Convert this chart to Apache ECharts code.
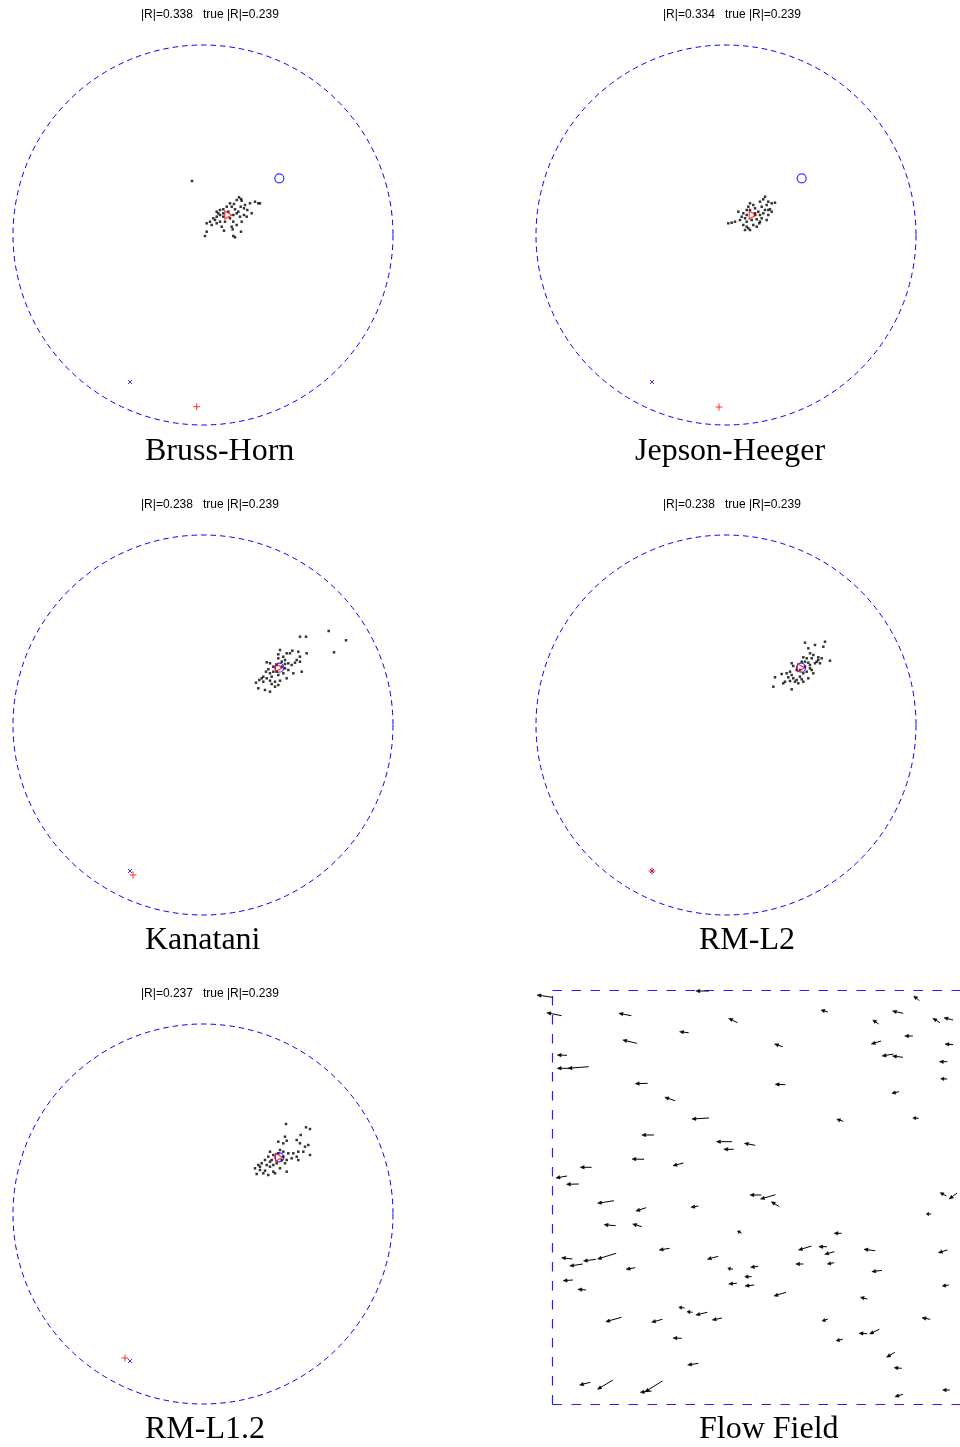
<!DOCTYPE html>
<html>
<head>
<meta charset="utf-8">
<script src="https://cdn.jsdelivr.net/npm/echarts@6/dist/echarts.min.js"></script>
<style>
  html, body { margin: 0; padding: 0; background: #fff; }
  #chart { width: 960px; height: 1447px; }
</style>
</head>
<body>
<div id="chart"></div>
<script>
// Radius of the dashed reference circle (same units as the estimates)
const RADIUS = 1.9;

const panelTitles = ['Bruss-Horn', 'Jepson-Heeger', 'Kanatani', 'RM-L2', 'RM-L1.2'];
const estimatedNorm = ['0.338', '0.334', '0.238', '0.238', '0.237'];
const trueNorm = '0.239';

// Rotation estimates from the individual flow samples, one array per method
const bhPoints = [
  [-0.11,0.54],
  [0.36,0.377],[0.38,0.36],[0.337,0.35],[0.387,0.343],[0.31,0.31],[0.27,0.317],[0.287,0.283],
  [0.237,0.283],[0.203,0.257],[0.17,0.25],[0.137,0.233],[0.253,0.233],[0.32,0.257],[0.377,0.283],
  [0.41,0.267],[0.443,0.25],[0.47,0.317],[0.52,0.333],[0.553,0.317],[0.57,0.317],[0.487,0.217],
  [0.41,0.2],[0.37,0.183],[0.337,0.217],[0.303,0.2],[0.27,0.167],[0.203,0.183],[0.17,0.2],
  [0.137,0.183],[0.103,0.167],[0.07,0.133],[0.037,0.117],[0.12,0.15],[0.17,0.133],[0.22,0.133],
  [0.303,0.133],[0.337,0.1],[0.387,0.133],[0.187,0.083],[0.137,0.117],[0.087,0.1],[0.037,0.033],
  [0.02,-0.01],[0.21,0.043],[0.297,0.057],[0.38,0.033],[0.32,-0.023],[0.303,-0.01],[0.203,0.217],
  [0.153,0.217],[0.287,0.083],[0.437,0.183],[0.353,0.233],[0.42,0.3]
];
const jhPoints = [
  [0.39,0.383],[0.373,0.357],[0.34,0.333],[0.423,0.333],[0.49,0.323],[0.457,0.317],[0.407,0.3],
  [0.357,0.283],[0.273,0.3],[0.29,0.267],[0.24,0.25],[0.207,0.25],[0.323,0.233],[0.39,0.25],
  [0.423,0.25],[0.457,0.233],[0.373,0.217],[0.34,0.2],[0.29,0.2],[0.207,0.2],[0.173,0.217],
  [0.123,0.233],[0.157,0.183],[0.19,0.167],[0.14,0.15],[0.09,0.133],[0.057,0.123],[0.023,0.117],
  [0.207,0.133],[0.257,0.15],[0.307,0.157],[0.357,0.167],[0.333,0.117],[0.273,0.1],[0.207,0.083],
  [0.24,0.05],[0.19,0.05],[0.173,0.1],[0.407,0.15],[0.423,0.2],[0.44,0.257],[0.29,0.217],
  [0.223,0.283],[0.24,0.317],[0.34,0.133],[0.307,0.083],[0.223,0.067]
];
const kanPoints = [
  [0.97,0.883],[1.03,0.883],[1.257,0.94],[1.43,0.847],[1.31,0.727],
  [0.77,0.75],[0.753,0.707],[0.803,0.683],[0.837,0.717],[0.87,0.717],[0.893,0.743],[0.953,0.733],
  [1.037,0.717],[0.97,0.683],[0.937,0.65],[0.97,0.633],[0.82,0.65],[0.787,0.633],[0.853,0.617],
  [0.887,0.6],[0.92,0.623],[0.637,0.627],[0.67,0.617],[0.703,0.583],[0.737,0.6],[0.787,0.583],
  [0.82,0.567],[0.853,0.55],[0.903,0.517],[0.987,0.533],[0.837,0.467],[0.753,0.5],[0.737,0.533],
  [0.703,0.533],[0.67,0.517],[0.653,0.557],[0.63,0.533],[0.687,0.483],[0.637,0.467],[0.587,0.467],
  [0.563,0.45],[0.53,0.423],[0.603,0.433],[0.67,0.443],[0.72,0.433],[0.77,0.443],[0.553,0.367],
  [0.62,0.35],[0.67,0.333],[0.72,0.383],[0.687,0.41],[0.753,0.4],[0.603,0.483],[0.803,0.517],
  [0.753,0.667],[0.82,0.61]
];
const l2Points = [
  [0.79,0.823],[0.99,0.833],[0.973,0.783],[0.89,0.8],[0.823,0.767],[0.84,0.717],[0.873,0.7],
  [0.773,0.677],[0.807,0.667],[0.857,0.667],[0.923,0.677],[0.957,0.667],[1.04,0.643],[0.907,0.633],
  [0.823,0.623],[0.79,0.633],[0.757,0.633],[0.673,0.59],[0.707,0.55],[0.74,0.55],[0.79,0.583],
  [0.84,0.6],[0.89,0.617],[0.94,0.617],[0.64,0.533],[0.657,0.5],[0.623,0.477],[0.673,0.467],
  [0.707,0.45],[0.74,0.483],[0.773,0.517],[0.807,0.533],[0.857,0.55],[0.873,0.517],[0.823,0.467],
  [0.773,0.433],[0.723,0.417],[0.69,0.433],[0.64,0.44],[0.59,0.433],[0.557,0.51],[0.49,0.477],
  [0.573,0.417],[0.473,0.383],[0.657,0.357],[0.657,0.617],[0.923,0.65],[0.84,0.567],[0.607,0.517],
  [0.757,0.457]
];
const l12Points = [
  [0.83,0.9],[1.03,0.867],[1.07,0.85],[0.977,0.79],[0.82,0.773],[0.837,0.733],[0.753,0.723],
  [0.803,0.707],[0.937,0.74],[0.97,0.707],[1.02,0.673],[1.053,0.69],[1.003,0.623],[1.07,0.59],
  [0.953,0.623],[0.903,0.607],[0.853,0.607],[0.803,0.623],[0.77,0.64],[0.67,0.623],[0.703,0.59],
  [0.653,0.573],[0.62,0.54],[0.687,0.54],[0.803,0.573],[0.837,0.54],[0.887,0.557],[0.937,0.573],
  [0.953,0.54],[0.587,0.507],[0.553,0.49],[0.637,0.49],[0.67,0.473],[0.703,0.49],[0.737,0.507],
  [0.82,0.507],[0.77,0.457],[0.703,0.423],[0.62,0.433],[0.57,0.44],[0.52,0.457],[0.603,0.407],
  [0.653,0.39],[0.72,0.407],[0.537,0.4],[0.837,0.423],[0.787,0.54],[0.67,0.523],[0.57,0.473],
  [0.753,0.607]
];

// Final estimate (red triangle), true rotation (blue circle), and the
// translation estimates (blue cross, red plus) for each method
const estimateMark = [[0.253,0.2],[0.267,0.2],[0.76,0.573],[0.75,0.573],[0.76,0.567]];
const truthMark = [[0.763,0.567],[0.757,0.567],[0.763,0.573],[0.75,0.573],[0.763,0.567]];
const crossMark = [[-0.73,-1.47],[-0.74,-1.47],[-0.73,-1.46],[-0.74,-1.46],[-0.73,-1.47]];
const plusMark = [[-0.063,-1.717],[-0.07,-1.72],[-0.70,-1.50],[-0.74,-1.46],[-0.78,-1.44]];

// Flow field: [x, y, u, v] with the base at (x, y)
const flowVectors = [
  [0.7,407.7,-16,2.3],[159.7,414,-13.4,0],[9.7,389.3,-15,3],[80.7,389.3,-12.7,2.4],
  [188.7,382.3,-9,4.4],[139,372.3,-9.3,1],[86.3,361.7,-14.3,3.3],[15.3,349.7,-10,0.3],
  [18,336.7,-12.7,0],[37.3,338.3,-21,-1.6],[97.3,321.7,-12.6,-0.4],[125.3,304.3,-10.6,3.4],
  [159.7,287,-17.4,-1],[103.7,270,-12.4,0],[183,263.3,-15.7,0],[184.7,255.7,-10,0],
  [93.7,245.7,-12.4,0.3],[133.7,242,-10.7,-2.7],[40.3,237.7,-11.6,0],[15.3,229,-11.3,-2],
  [27.3,221,-12.6,-0.3],
  [373.7,404.3,-5.7,4.7],[280.7,393,-7,2],[357.3,391.7,-11,2.3],[394.7,382.3,-7.4,4.4],
  [408,385,-9.3,2.3],[332.3,381,-6,4],[367,369,-8.3,0],[334.7,364,-10,-3],
  [234.7,358.3,-8.4,2.7],[408,360.3,-8.3,0.7],[347.3,351,-11.6,-2],[357,347.7,-10.7,1.3],
  [402,343.3,-8,0],[402,326,-6.7,0.3],[237.3,320.3,-10.3,0.4],[353,313.3,-7.3,-1.6],
  [296.3,283.7,-6.6,2],[373,286.7,-6,0.3],[206.7,259.7,-11,2],[213,210,-11.7,0],
  [227.3,210.3,-15.3,-4.3],[401.3,209,-6.6,3.3],[412,212,-8,-6],
  [63,204.3,-16.7,-2.6],[95.7,197.3,-10.4,-3.3],[149,199,-7.7,-1.3],[64.7,179.3,-11.7,1],
  [91.3,178.3,-9.3,2.7],[193,171.7,-4.3,2.3],[119.7,156.7,-10.7,-1.7],[20.7,146,-11,1.3],
  [31.3,141,-13.3,-2],[44.7,145.7,-12.7,-1.7],[65.3,151.7,-19,-5.7],[169,148.7,-11,-3],
  [84.7,137.3,-9.4,-1.6],[184,135.7,-5.3,1],[21.3,125,-10,-0.7],[34.7,115,-8.4,0.7],
  [188,121.7,-8.3,-0.7],[134.7,97,-5.7,0.7],[143,92.7,-5.7,0.6],[158,92.7,-11.7,-2.7],
  [70.7,87.7,-16,-4.4],[112.3,85.7,-11,-3],[173,87,-10,-2],[132,66.7,-9,0.3],
  [149,41.7,-11,-1.7],[39,22.7,-11,-2.7],[62,25,-15.7,-9.3],[101.3,14,-11.6,-1.3],
  [112.3,24,-17.6,-10.7],
  [231.3,198.3,-8.3,5],[385.7,191,-5,0],[294.7,171.7,-7.7,0],[264,159,-13.3,-4],
  [279.7,158.3,-8.4,0],[287.3,153.3,-10,-2.6],[328.7,154.3,-11.4,1.4],[402.3,155,-9.3,-2.7],
  [209.7,138.7,-7.7,-1],[255.7,141,-7.7,0],[287,142.3,-7,-1.3],[335.7,134.7,-10.4,-1.4],
  [203,128.3,-7,0],[205.7,120,-9.4,-1],[403.7,120,-6.7,-1],[238,112.7,-12.3,-3.7],
  [320.7,106,-7,1.7],[384.7,85.7,-8.4,1.6],[280.7,86,-6,-2],[320.7,71.3,-8.4,0.4],
  [333,75.7,-10,-4.7],[295.7,65.7,-6.7,-1.4],[348.7,52.7,-8.4,-5],[355.7,36.7,-7.7,0.6],
  [404.7,15,-7.4,0],[357,10.7,-8.3,-2.4]
];
const FLOW_SIZE = 415;

const panelPoints = [bhPoints, jhPoints, kanPoints, l2Points, l12Points];

// Panel placement (pixel centres of each circle)
const panelCenters = [[203,235],[726,235],[203,725],[726,725],[203,1214]];
const panelR = 190;
const titleLeft = [145, 635, 145, 699, 145];
const titleTop = [436, 436, 925, 925, 1414];
const headerLeft = [141, 663, 141, 663, 141];
const headerTop = [9, 9, 499, 499, 988];

const grids = [], xAxes = [], yAxes = [], series = [], titles = [];

const hiddenAxis = (gridIndex, min, max) => ({
  gridIndex, type: 'value', min, max, show: false
});

const crossPath = 'path://M0,0L10,10M10,0L0,10';
const plusPath = 'path://M5,0L5,10M0,5L10,5';
const trianglePath = 'path://M0,0L10,5L0,10Z';

const headerStyle = () => ({ fontFamily: 'Liberation Sans', fontSize: 12, fontWeight: 'normal', color: '#000' });
const nameStyle = () => ({ fontFamily: 'Liberation Serif', fontSize: 32, fontWeight: 'normal', color: '#000' });

panelCenters.forEach((c, i) => {
  grids.push({ left: c[0] - panelR, top: c[1] - panelR, width: 2 * panelR, height: 2 * panelR });
  xAxes.push(hiddenAxis(i, -RADIUS, RADIUS));
  yAxes.push(hiddenAxis(i, -RADIUS, RADIUS));

  // dashed reference circle
  series.push({
    type: 'custom', xAxisIndex: i, yAxisIndex: i, silent: true,
    data: [[0, 0, RADIUS]],
    renderItem: (params, api) => {
      const ctr = api.coord([api.value(0), api.value(1)]);
      const r = api.size([api.value(2), 0])[0];
      return {
        type: 'circle',
        shape: { cx: ctr[0], cy: ctr[1], r },
        style: { fill: 'none', stroke: '#0000ff', lineWidth: 1, lineDash: [5.5, 4] }
      };
    }
  });

  series.push({
    type: 'scatter', xAxisIndex: i, yAxisIndex: i, silent: true,
    symbol: 'rect', symbolSize: 2.5,
    itemStyle: { color: '#000' },
    data: panelPoints[i]
  });

  series.push({
    type: 'scatter', xAxisIndex: i, yAxisIndex: i, silent: true,
    symbol: 'circle', symbolSize: 9,
    itemStyle: { color: 'rgba(0,0,0,0)', borderColor: '#0000ff', borderWidth: 1.2 },
    data: [truthMark[i]], z: 4
  });
  series.push({
    type: 'scatter', xAxisIndex: i, yAxisIndex: i, silent: true,
    symbol: trianglePath, symbolSize: [7, 8],
    itemStyle: { color: 'rgba(0,0,0,0)', borderColor: '#ff0000', borderWidth: 1.2 },
    data: [estimateMark[i]], z: 5
  });
  series.push({
    type: 'scatter', xAxisIndex: i, yAxisIndex: i, silent: true,
    symbol: crossPath, symbolSize: 4,
    itemStyle: { color: 'rgba(0,0,0,0)', borderColor: '#0000ff', borderWidth: 1 },
    data: [crossMark[i]], z: 4
  });
  series.push({
    type: 'scatter', xAxisIndex: i, yAxisIndex: i, silent: true,
    symbol: plusPath, symbolSize: 7,
    itemStyle: { color: 'rgba(0,0,0,0)', borderColor: '#ff0000', borderWidth: 1 },
    data: [plusMark[i]], z: 5
  });

  titles.push({
    text: '|R|=' + estimatedNorm[i] + '   true |R|=' + trueNorm,
    left: headerLeft[i], top: headerTop[i], padding: 0,
    textStyle: headerStyle()
  });
  titles.push({
    text: panelTitles[i],
    left: titleLeft[i], top: titleTop[i], padding: 0,
    textStyle: nameStyle()
  });
});

// Flow field panel
const fi = panelCenters.length;
grids.push({ left: 552, top: 990, width: FLOW_SIZE, height: FLOW_SIZE });
xAxes.push(hiddenAxis(fi, 0, FLOW_SIZE));
yAxes.push(hiddenAxis(fi, 0, FLOW_SIZE));

// dashed frame: top, bottom and left sides of the axis extent
const frameSides = [
  [0, FLOW_SIZE, FLOW_SIZE, FLOW_SIZE],
  [0, 0, FLOW_SIZE, 0],
  [0, 0, 0, FLOW_SIZE]
];
series.push({
  type: 'custom', xAxisIndex: fi, yAxisIndex: fi, silent: true, clip: false,
  data: frameSides,
  renderItem: (params, api) => {
    const a = api.coord([api.value(0), api.value(1)]);
    const b = api.coord([api.value(2), api.value(3)]);
    const snap = (v) => Math.round(v) + 0.5;
    return {
      type: 'line',
      shape: { x1: snap(a[0]), y1: snap(a[1]) - (a[1] > 1000 ? 1 : 0), x2: snap(b[0]), y2: snap(b[1]) - (b[1] > 1000 ? 1 : 0) },
      style: { stroke: '#2020ff', lineWidth: 1.2, lineDash: [9.5, 9.5] }
    };
  }
});

series.push({
  type: 'custom', xAxisIndex: fi, yAxisIndex: fi, silent: true, clip: false,
  data: flowVectors,
  renderItem: (params, api) => {
    const x = api.value(0), y = api.value(1), u = api.value(2), v = api.value(3);
    const p0 = api.coord([x, y]);
    const p1 = api.coord([x + u, y + v]);
    const dx = p1[0] - p0[0], dy = p1[1] - p0[1];
    const len = Math.hypot(dx, dy) || 1;
    const ux = dx / len, uy = dy / len;
    const hl = Math.min(4, len * 0.5), hw = 1.7;
    const bx = p1[0] - ux * hl, by = p1[1] - uy * hl;
    return {
      type: 'group',
      children: [
        { type: 'line', shape: { x1: p0[0], y1: p0[1], x2: bx, y2: by },
          style: { stroke: '#000', lineWidth: 1 } },
        { type: 'polygon',
          shape: { points: [[p1[0], p1[1]], [bx - uy * hw, by + ux * hw], [bx + uy * hw, by - ux * hw]] },
          style: { fill: '#000', stroke: '#000', lineWidth: 0.5 } }
      ]
    };
  }
});
titles.push({
  text: 'Flow Field', left: 699, top: 1414, padding: 0,
  textStyle: nameStyle()
});

const chart = echarts.init(document.getElementById('chart'), null, { renderer: 'canvas' });
chart.setOption({
  backgroundColor: '#fff',
  animation: false,
  title: titles,
  grid: grids,
  xAxis: xAxes,
  yAxis: yAxes,
  series
});
</script>
</body>
</html>
